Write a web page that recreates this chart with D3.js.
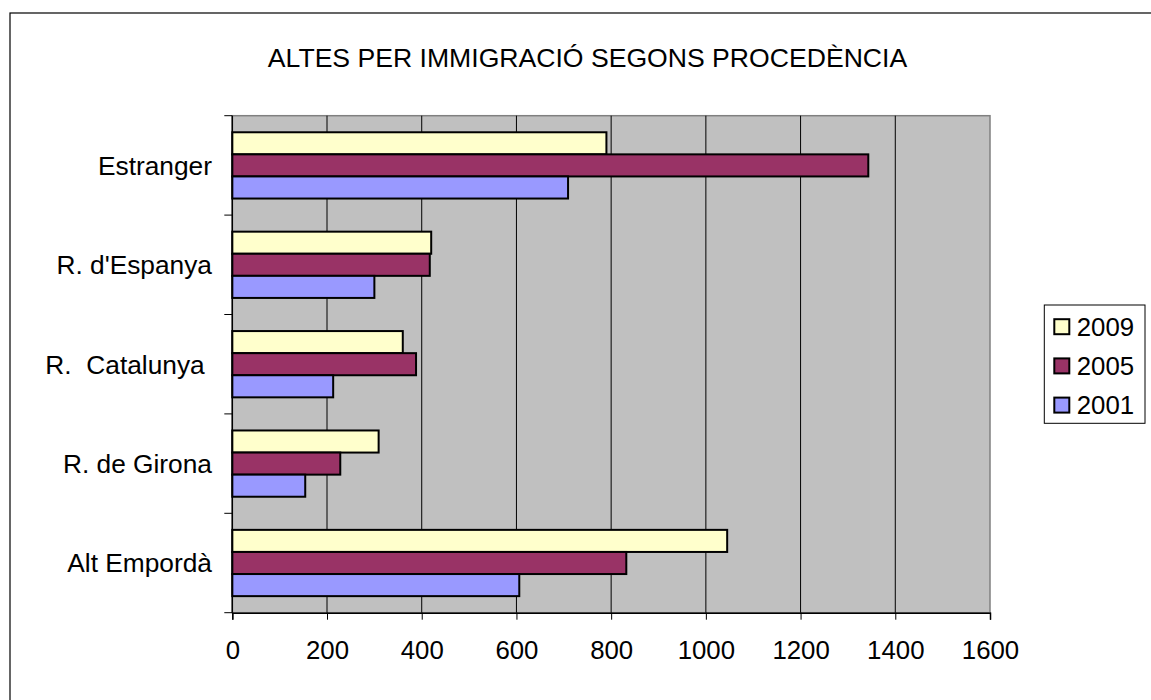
<!DOCTYPE html>
<html>
<head>
<meta charset="utf-8">
<script src="https://cdn.jsdelivr.net/npm/d3@7"></script>
<style>
  body { margin: 0; background: #fff; }
  svg text { font-family: "Liberation Sans", Arial, sans-serif; fill: #000; }
</style>
</head>
<body>
<svg id="chart"></svg>
<script>
const width = 1151;
const height = 700;

// data
const categories = ['Estranger', "R. d'Espanya", 'R.  Catalunya ', 'R. de Girona', 'Alt Empordà'];
const seriesNames = ['2009', '2005', '2001'];
const values2009 = [790, 420, 360, 309, 1045];
const values2005 = [1343, 417, 388, 228, 832];
const values2001 = [709, 300, 213, 154, 606];
const xTicks = [0, 200, 400, 600, 800, 1000, 1200, 1400, 1600];
const seriesColors = ['#FFFFCC', '#993366', '#9999FF'];

const seriesValues = [values2009, values2005, values2001];
const rows = categories.map((c, i) => ({
  cat: c,
  vals: seriesNames.map((s, j) => ({ key: s, value: seriesValues[j][i] }))
}));

const plot = { left: 232.3, right: 990, top: 115.7, bottom: 612.7 };

const svg = d3.select('#chart')
  .attr('width', width)
  .attr('height', height);

// outer frame
svg.append('rect')
  .attr('x', 10)
  .attr('y', 13)
  .attr('width', 1150)
  .attr('height', 700)
  .attr('fill', '#fff')
  .attr('stroke', '#000')
  .attr('stroke-width', 1.2);

svg.append('text')
  .attr('x', 587.5)
  .attr('y', 66.7)
  .attr('text-anchor', 'middle')
  .style('font-size', '26.6px')
  .text('ALTES PER IMMIGRACIÓ SEGONS PROCEDÈNCIA');

// scales
const x = d3.scaleLinear()
  .domain([0, 1600])
  .range([plot.left, plot.right]);

const y0 = d3.scaleBand()
  .domain(categories)
  .range([plot.top, plot.bottom])
  .paddingInner(1 / 3)
  .paddingOuter(1 / 6);

const y1 = d3.scaleBand()
  .domain(seriesNames)
  .range([0, y0.bandwidth()]);

const color = d3.scaleOrdinal().domain(seriesNames).range(seriesColors);

// plot background
svg.append('rect')
  .attr('x', plot.left)
  .attr('y', plot.top)
  .attr('width', plot.right - plot.left)
  .attr('height', plot.bottom - plot.top)
  .attr('fill', '#C0C0C0')
  .attr('stroke', '#808080')
  .attr('stroke-width', 1.5);

// vertical gridlines
svg.append('g')
  .selectAll('line')
  .data(xTicks.filter(d => d > 0 && d < 1600))
  .join('line')
    .attr('x1', d => x(d))
    .attr('x2', d => x(d))
    .attr('y1', plot.top)
    .attr('y2', plot.bottom)
    .attr('stroke', '#000')
    .attr('stroke-width', 1);

// bars
const groups = svg.append('g')
  .selectAll('g')
  .data(rows)
  .join('g')
    .attr('transform', d => `translate(0, ${y0(d.cat)})`);

groups.selectAll('rect')
  .data(d => d.vals)
  .join('rect')
    .attr('x', x(0))
    .attr('y', d => y1(d.key))
    .attr('width', d => x(d.value) - x(0))
    .attr('height', y1.bandwidth())
    .attr('fill', d => color(d.key))
    .attr('stroke', '#000')
    .attr('stroke-width', 2);

// x axis
const xAxis = svg.append('g')
  .attr('transform', `translate(0, ${plot.bottom})`)
  .call(d3.axisBottom(x).tickValues(xTicks).tickSize(7).tickPadding(21).tickFormat(d3.format('d')));
xAxis.select('.domain').attr('stroke', '#000').attr('stroke-width', 1.5);
xAxis.selectAll('.tick line').attr('stroke', '#000');
xAxis.selectAll('text')
  .style('font-size', '25.8px')
  .attr('dy', '0.71em');

// category axis, ticks at band boundaries
const boundaries = categories.map(c => y0(c) - y0.step() * y0.paddingInner() / 2)
  .concat([plot.bottom]);
svg.append('line')
  .attr('x1', plot.left)
  .attr('x2', plot.left)
  .attr('y1', plot.top)
  .attr('y2', plot.bottom)
  .attr('stroke', '#000')
  .attr('stroke-width', 1.5);
svg.append('g')
  .selectAll('line')
  .data(boundaries)
  .join('line')
    .attr('x1', plot.left - 8)
    .attr('x2', plot.left)
    .attr('y1', d => d)
    .attr('y2', d => d)
    .attr('stroke', '#000');

svg.append('g')
  .selectAll('text')
  .data(categories)
  .join('text')
    .attr('x', 212)
    .attr('y', d => y0(d) + y0.bandwidth() / 2)
    .attr('dy', '0.36em')
    .attr('text-anchor', 'end')
    .style('font-size', '26.3px')
    .style('white-space', 'pre')
    .text(d => d);

// legend
const legend = svg.append('g').attr('transform', 'translate(1044.3, 305)');
legend.append('rect')
  .attr('width', 100.7)
  .attr('height', 118.3)
  .attr('fill', '#fff')
  .attr('stroke', '#000')
  .attr('stroke-width', 1);

const items = legend.selectAll('g.item')
  .data(seriesNames)
  .join('g')
    .attr('class', 'item')
    .attr('transform', (d, i) => `translate(10, ${21.7 + i * 39.2})`);
items.append('rect')
  .attr('x', 0)
  .attr('y', -7.5)
  .attr('width', 15)
  .attr('height', 15)
  .attr('fill', d => color(d))
  .attr('stroke', '#000')
  .attr('stroke-width', 2);
items.append('text')
  .attr('x', 22.4)
  .attr('dy', '0.36em')
  .style('font-size', '25.8px')
  .text(d => d);
</script>
</body>
</html>
